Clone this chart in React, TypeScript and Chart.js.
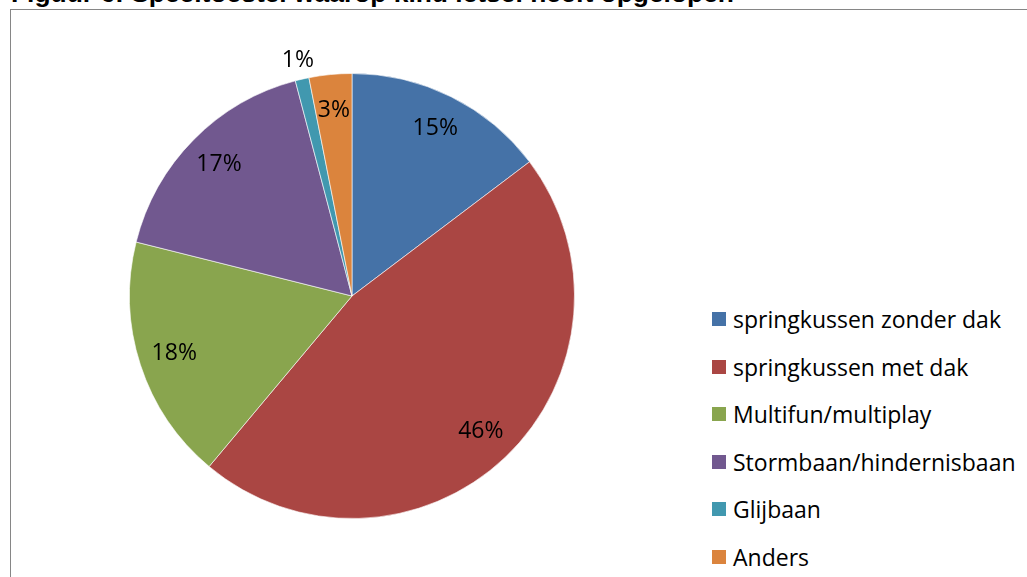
import React, { useEffect, useRef } from "react";
import { Chart, registerables } from "chart.js";

Chart.register(...registerables);

const titleText = "Figuur 6: Speeltoestel waarop kind letsel heeft opgelopen";
const categories = [
  "springkussen zonder dak",
  "springkussen met dak",
  "Multifun/multiplay",
  "Stormbaan/hindernisbaan",
  "Glijbaan",
  "Anders",
];
const values = [14.7, 46.4, 17.8, 17.0, 1.0, 3.1];
const valueLabels = ["15%", "46%", "18%", "17%", "1%", "3%"];
const colors = ["#4572A7", "#AA4643", "#89A54E", "#71588F", "#4198AF", "#DB843D"];
const outsideLabel = [false, false, false, false, true, false];

const FONT = "'Open Sans', 'Noto Sans', sans-serif";

const labelPlugin = {
  id: "sliceLabels",
  afterDatasetsDraw(chart: any) {
    const ctx = chart.ctx;
    const meta = chart.getDatasetMeta(0);
    ctx.save();
    ctx.font = `23px ${FONT}`;
    ctx.fillStyle = "#000";
    ctx.textAlign = "center";
    ctx.textBaseline = "middle";
    meta.data.forEach((arc: any, i: number) => {
      const p = arc.getProps(["x", "y", "startAngle", "endAngle", "outerRadius"], true);
      const mid = (p.startAngle + p.endAngle) / 2;
      const r = p.outerRadius * (outsideLabel[i] ? 1.085 : 0.84);
      ctx.fillText(valueLabels[i], p.x + Math.cos(mid) * r, p.y + Math.sin(mid) * r);
    });
    ctx.restore();
  },
};

export default function App() {
  const ref = useRef<HTMLCanvasElement>(null);
  useEffect(() => {
    if (!ref.current) return;
    const chart = new Chart(ref.current, {
      type: "pie",
      data: {
        labels: categories,
        datasets: [
          {
            data: values,
            backgroundColor: colors,
            borderColor: "rgba(255,255,255,0.6)",
            borderWidth: 1,
          },
        ],
      },
      options: {
        animation: false,
        responsive: false,
        maintainAspectRatio: false,
        layout: { padding: 30 },
        plugins: {
          legend: { display: false },
          tooltip: { enabled: false },
        },
      },
      plugins: [labelPlugin],
    });
    return () => chart.destroy();
  }, []);

  return (
    <div
      style={{
        position: "fixed",
        left: 0,
        top: 0,
        width: 1027,
        height: 577,
        overflow: "hidden",
        background: "#fff",
      }}
    >
      <div
        style={{
          position: "absolute",
          left: 10,
          top: 9,
          width: 1100,
          height: 700,
          borderLeft: "1px solid #868686",
          borderTop: "1px solid #868686",
        }}
      />
      <div
        style={{
          position: "absolute",
          left: 11,
          top: -22,
          fontFamily: "Arial, 'Liberation Sans', sans-serif",
          fontWeight: "bold",
          fontSize: 26.4,
          lineHeight: "30px",
          whiteSpace: "nowrap",
          color: "#000",
        }}
      >
        {titleText}
      </div>
      <canvas
        ref={ref}
        width={506}
        height={506}
        style={{ position: "absolute", left: 99, top: 43, width: 506, height: 506 }}
      />
      {categories.map((c, i) => (
        <div
          key={c}
          style={{
            position: "absolute",
            left: 712,
            top: 319 + i * 47.6 - 15,
            height: 30,
            display: "flex",
            alignItems: "center",
            fontFamily: FONT,
            fontSize: 23,
            whiteSpace: "nowrap",
            color: "#000",
          }}
        >
          <span
            style={{
              display: "inline-block",
              width: 14,
              height: 14,
              background: colors[i],
              marginRight: 7,
            }}
          />
          {c}
        </div>
      ))}
    </div>
  );
}
